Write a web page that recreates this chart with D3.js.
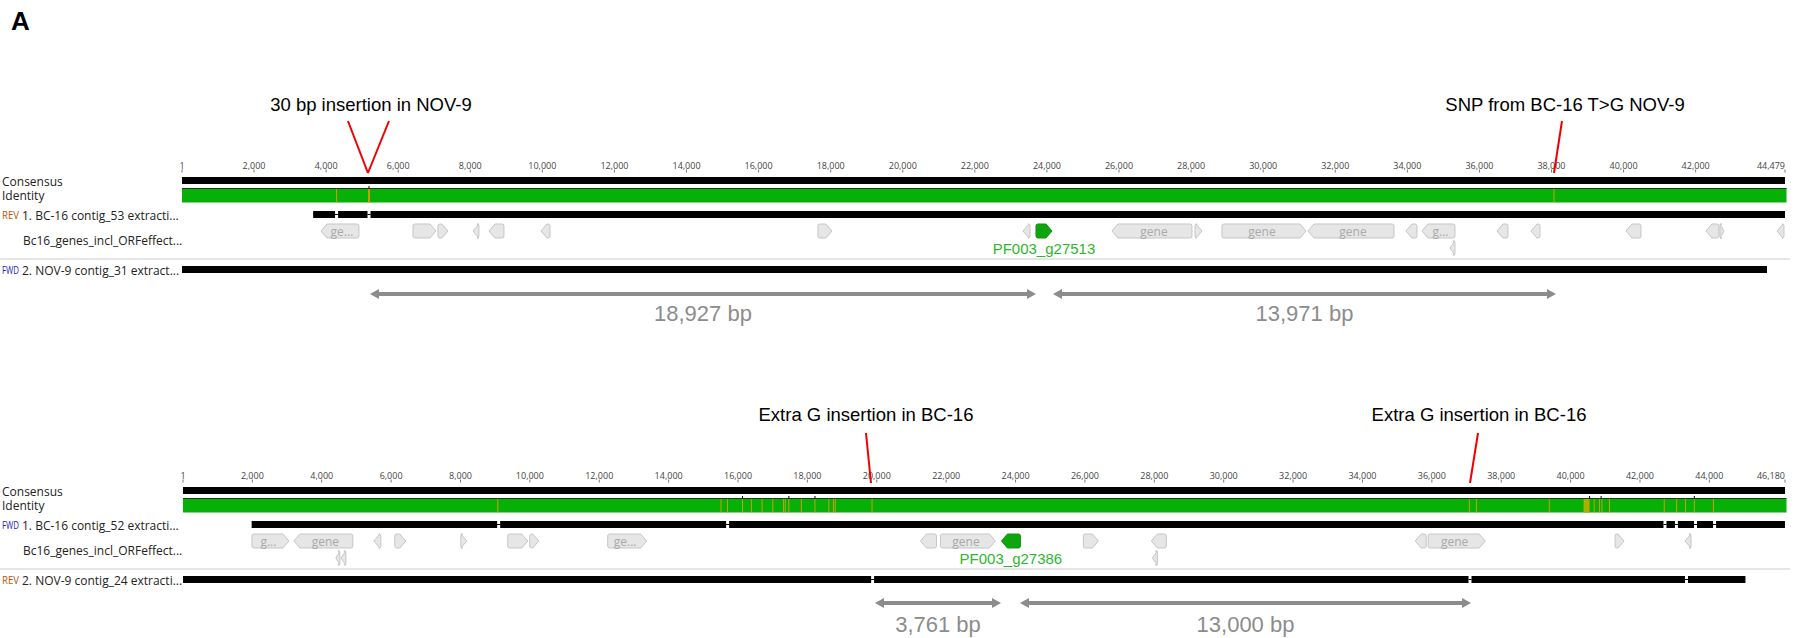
<!DOCTYPE html>
<html>
<head>
<meta charset="utf-8">
<script src="https://cdn.jsdelivr.net/npm/d3@7"></script>
<style>
  body { margin: 0; background: #fff; }
  svg { display: block; }
</style>
</head>
<body>
<div id="chart"></div>
<script>
// ---- data (bp positions) ----
const topLength = 44479;
const bottomLength = 46180;
const topTicks = [1, 2000, 4000, 6000, 8000, 10000, 12000, 14000, 16000, 18000, 20000, 22000,
  24000, 26000, 28000, 30000, 32000, 34000, 36000, 38000, 40000, 42000, 44479];
const bottomTicks = [1, 2000, 4000, 6000, 8000, 10000, 12000, 14000, 16000, 18000, 20000, 22000,
  24000, 26000, 28000, 30000, 32000, 34000, 36000, 38000, 40000, 42000, 44000, 46180];

const topSeqNames = ['1. BC-16 contig_53 extracti...', '2. NOV-9 contig_31 extract...'];
const topStrands = ['REV', 'FWD'];
const bottomSeqNames = ['1. BC-16 contig_52 extracti...', '2. NOV-9 contig_24 extracti...'];
const bottomStrands = ['FWD', 'REV'];
const annotationTrack = 'Bc16_genes_incl_ORFeffect...';

// [start, end] of each aligned sequence, and positions of gaps
const topRow1 = [3640, 44479];
const topRow1Gaps = [4290, 5190];
const topRow2 = [1, 43980];
const topRow2Gaps = [];
const bottomRow1 = [1980, 46180];
const bottomRow1Gaps = [9100, 15700, 42720, 43050, 43600, 44150];
const bottomRow2 = [1, 45040];
const bottomRow2Gaps = [19880, 37100, 43340];

// identity disagreements
const topMarks = [4290, 38070];
const topWideMarks = [5190];
const topBlocks = [];
const topGapTicks = [5190];
const bottomMarks = [9075, 15509, 15697, 16129, 16385, 16694, 17002, 17310, 17362, 17466, 17826,
  18218, 18618, 18751, 18803, 19863, 37081, 37285, 39386, 40680, 40832, 40904, 41120, 42699,
  43056, 43313, 43566, 44117];
const bottomWideMarks = [];
const bottomBlocks = [[40374, 40547]];
const bottomGapTicks = [16129, 17466, 18218, 40547, 40880, 43566];

// genes: [start, end, strand, label, lane, highlighted]
const topGenes = [
  [3857, 4911, -1, 'ge...', 0, false],
  [6410, 7048, 1, '', 0, false],
  [7103, 7380, 1, '', 0, false],
  [8074, 8240, -1, '', 0, false],
  [8518, 8934, -1, '', 0, false],
  [9961, 10211, -1, '', 0, false],
  [17647, 18035, 1, '', 0, false],
  [23335, 23530, -1, '', 0, false],
  [23696, 24140, 1, 'PF003_g27513', 0, true],
  [25805, 28024, -1, 'gene', 0, false],
  [28108, 28302, 1, '', 0, false],
  [28857, 31188, 1, 'gene', 0, false],
  [31243, 33630, -1, 'gene', 0, false],
  [33962, 34267, -1, '', 0, false],
  [34406, 35322, -1, 'g...', 0, false],
  [35183, 35322, -1, '', 1, false],
  [36487, 36792, -1, '', 0, false],
  [37431, 37680, -1, '', 0, false],
  [40067, 40483, -1, '', 0, false],
  [42286, 42647, -1, '', 0, false],
  [42675, 42786, 1, '', 0, false],
  [44256, 44451, -1, '', 0, false]
];
const bottomGenes = [
  [1988, 3054, 1, 'g...', 0, false],
  [3198, 4897, -1, 'gene', 0, false],
  [4408, 4523, -1, '', 1, false],
  [4552, 4696, -1, '', 1, false],
  [5502, 5704, -1, '', 0, false],
  [6107, 6424, 1, '', 0, false],
  [8009, 8182, 1, '', 0, false],
  [9362, 9939, 1, '', 0, false],
  [9996, 10256, 1, '', 0, false],
  [12243, 13367, 1, 'ge...', 0, false],
  [21260, 21721, -1, '', 0, false],
  [21836, 23420, 1, 'gene', 0, false],
  [23593, 24140, -1, 'PF003_g27386', 0, true],
  [25955, 26388, 1, '', 0, false],
  [27915, 28347, -1, '', 0, false],
  [27944, 28088, -1, '', 1, false],
  [35520, 35837, -1, '', 0, false],
  [35894, 37537, 1, 'gene', 0, false],
  [41281, 41540, 1, '', 0, false],
  [43298, 43471, -1, '', 0, false]
];

// red call-outs: text, text centre (bp), line segments [top bp, bottom bp]
const topNotes = [
  { text: '30 bp insertion in NOV-9', at: 5244, lines: [[4606, 5161], [5744, 5161]] },
  { text: 'SNP from BC-16 T>G NOV-9', at: 38375, lines: [[38291, 38069]] }
];
const bottomNotes = [
  { text: 'Extra G insertion in BC-16', at: 19689, lines: [[19689, 19833]] },
  { text: 'Extra G insertion in BC-16', at: 37360, lines: [[37331, 37100]] }
];

// distance arrows: [from, to, label]
const topSpans = [[5217, 23696, '18,927 bp'], [24168, 38124, '13,971 bp']];
const bottomSpans = [[19948, 23580, '3,761 bp'], [24128, 37129, '13,000 bp']];

// ---- drawing ----
const W = 1805, H = 638;
const uiFont = '"Open Sans", "Noto Sans", sans-serif';
const sansFont = '"Liberation Sans", Arial, sans-serif';

const svg = d3.select('#chart').append('svg')
  .attr('width', W)
  .attr('height', H);

svg.append('rect').attr('width', W).attr('height', H).attr('fill', '#fff');

svg.append('text')
  .attr('x', 11).attr('y', 30)
  .attr('font-family', sansFont)
  .attr('font-weight', 'bold')
  .attr('font-size', 26)
  .text('A');

const fmt = d3.format(',');

function drawPanel(p, dy) {
  const x = d3.scaleLinear().domain([1, p.length]).range([p.x0, 1785]);
  const g = svg.append('g').attr('transform', `translate(0,${dy})`);

  // track labels
  const labels = g.append('g')
    .attr('font-family', uiFont)
    .attr('font-size', 12)
    .attr('fill', '#222')
    .attr('dominant-baseline', 'central');
  labels.append('text').attr('x', 2).attr('y', 181).text('Consensus');
  labels.append('text').attr('x', 2).attr('y', 195).text('Identity');
  labels.append('text').attr('x', 22).attr('y', 215).text(p.names[0]);
  labels.append('text').attr('x', 23).attr('y', 240).text(annotationTrack);
  labels.append('text').attr('x', 22).attr('y', 270).text(p.names[1]);

  [[p.strands[0], 215], [p.strands[1], 270]].forEach(([s, y]) => {
    g.append('text')
      .attr('x', 2).attr('y', y)
      .attr('dominant-baseline', 'central')
      .attr('font-family', uiFont)
      .attr('font-size', 10)
      .attr('textLength', 17)
      .attr('lengthAdjust', 'spacingAndGlyphs')
      .attr('fill', s === 'REV' ? '#b8560b' : '#1c1cb8')
      .text(s);
  });

  // ruler
  const ruler = g.append('g');
  ruler.selectAll('line')
    .data(p.ticks)
    .enter().append('line')
    .attr('x1', d => x(d)).attr('x2', d => x(d))
    .attr('y1', 169.5).attr('y2', 172.5)
    .attr('stroke', '#777').attr('stroke-width', 1);
  ruler.selectAll('text')
    .data(p.ticks)
    .enter().append('text')
    .attr('x', d => x(d))
    .attr('y', 169)
    .attr('text-anchor', (d, i) => i === p.ticks.length - 1 ? 'end' : 'middle')
    .attr('font-family', uiFont)
    .attr('font-size', 9)
    .attr('fill', '#444')
    .text(d => fmt(d));

  // consensus
  g.append('rect')
    .attr('x', x(1)).attr('y', 177)
    .attr('width', x(p.length) - x(1)).attr('height', 7)
    .attr('fill', '#000');

  // identity
  g.append('rect')
    .attr('x', x(1)).attr('y', 188)
    .attr('width', x(p.length) - x(1) + 1.5).attr('height', 14.5)
    .attr('fill', '#07b007');
  g.append('line')
    .attr('x1', x(1)).attr('x2', x(p.length) + 1.5)
    .attr('y1', 188.5).attr('y2', 188.5)
    .attr('stroke', '#1a3a1a').attr('stroke-width', 1);
  g.selectAll('.blk')
    .data(p.blocks)
    .enter().append('rect')
    .attr('x', d => x(d[0])).attr('y', 189)
    .attr('width', d => x(d[1]) - x(d[0])).attr('height', 13.5)
    .attr('fill', '#a8b000');
  g.selectAll('.mk')
    .data(p.marks)
    .enter().append('rect')
    .attr('x', d => x(d) - 0.5).attr('y', 189)
    .attr('width', 1).attr('height', 13.5)
    .attr('fill', '#c9a000');
  g.selectAll('.wmk')
    .data(p.wideMarks)
    .enter().append('rect')
    .attr('x', d => x(d) - 1).attr('y', 189)
    .attr('width', 2).attr('height', 13.5)
    .attr('fill', '#c9a000');
  g.selectAll('.gtk')
    .data(p.gapTicks)
    .enter().append('rect')
    .attr('x', d => x(d) - 0.5).attr('y', 186)
    .attr('width', 1).attr('height', 3)
    .attr('fill', '#000');

  // aligned sequences
  function seqRow(range, gaps, y) {
    const cuts = [range[0]].concat(gaps, [range[1]]);
    const segs = d3.pairs(cuts);
    g.selectAll(null)
      .data(segs)
      .enter().append('rect')
      .attr('x', (d, i) => x(d[0]) + (i === 0 ? 0 : 1.5))
      .attr('y', y)
      .attr('width', (d, i) => Math.max(0, x(d[1]) - x(d[0]) - (i === 0 ? 0 : 1.5) - (i === segs.length - 1 ? 0 : 1.5)))
      .attr('height', 7)
      .attr('fill', '#000');
    g.selectAll(null)
      .data(gaps)
      .enter().append('line')
      .attr('x1', d => x(d) - 1.5).attr('x2', d => x(d) + 1.5)
      .attr('y1', y + 3.5).attr('y2', y + 3.5)
      .attr('stroke', '#000').attr('stroke-width', 1);
  }
  seqRow(p.row1, p.row1Gaps, 211);
  seqRow(p.row2, p.row2Gaps, 266);

  // separator
  g.append('line')
    .attr('x1', 0).attr('x2', 1790)
    .attr('y1', 259).attr('y2', 259)
    .attr('stroke', '#dcdcdc').attr('stroke-width', 1.5);

  // genes
  const laneY = [224, 241];
  const gh = 14;
  function genePath(d) {
    const x1 = x(d[0]), x2 = x(d[1]);
    const w = x2 - x1;
    const t = Math.min(6, w);
    const y = laneY[d[4]];
    const m = y + gh / 2;
    if (d[2] > 0) {
      return `M${x1},${y + 2}Q${x1},${y} ${x1 + 2},${y}L${x2 - t},${y}L${x2},${m}L${x2 - t},${y + gh}L${x1 + 2},${y + gh}Q${x1},${y + gh} ${x1},${y + gh - 2}Z`;
    }
    return `M${x2},${y + 2}Q${x2},${y} ${x2 - 2},${y}L${x1 + t},${y}L${x1},${m}L${x1 + t},${y + gh}L${x2 - 2},${y + gh}Q${x2},${y + gh} ${x2},${y + gh - 2}Z`;
  }
  const genes = g.append('g');
  genes.selectAll('path')
    .data(p.genes)
    .enter().append('path')
    .attr('d', genePath)
    .attr('fill', d => d[5] ? '#0ea50e' : '#e6e6e6')
    .attr('stroke', d => d[5] ? '#0a960a' : '#c6c6c6')
    .attr('stroke-width', 1)
    .attr('stroke-linejoin', 'round');
  genes.selectAll('text.in')
    .data(p.genes.filter(d => d[3] && !d[5]))
    .enter().append('text')
    .attr('class', 'in')
    .attr('x', d => (x(d[0]) + x(d[1])) / 2 + (d[2] > 0 ? -2 : 2))
    .attr('y', d => laneY[d[4]] + gh / 2)
    .attr('dominant-baseline', 'central')
    .attr('text-anchor', 'middle')
    .attr('font-family', uiFont)
    .attr('font-size', 12)
    .attr('fill', '#a9a9a9')
    .text(d => d[3]);
  genes.selectAll('text.hl')
    .data(p.genes.filter(d => d[5]))
    .enter().append('text')
    .attr('class', 'hl')
    .attr('x', d => (x(d[0]) + x(d[1])) / 2)
    .attr('y', 248)
    .attr('dominant-baseline', 'central')
    .attr('text-anchor', 'middle')
    .attr('font-family', sansFont)
    .attr('font-size', 15)
    .attr('fill', '#2eb62e')
    .text(d => d[3]);

  // red call-outs
  const notes = g.append('g');
  p.notes.forEach(n => {
    notes.append('text')
      .attr('x', x(n.at)).attr('y', 104)
      .attr('dominant-baseline', 'central')
      .attr('text-anchor', 'middle')
      .attr('font-family', sansFont)
      .attr('font-size', 18.5)
      .attr('fill', '#000')
      .text(n.text);
    n.lines.forEach(l => {
      notes.append('line')
        .attr('x1', x(l[0])).attr('y1', p.noteTop)
        .attr('x2', x(l[1])).attr('y2', 173)
        .attr('stroke', '#f00000').attr('stroke-width', 2);
    });
  });

  // distance arrows
  const spans = g.append('g');
  const ay = p.arrowY;
  p.spans.forEach(s => {
    const a = x(s[0]), b = x(s[1]);
    spans.append('line')
      .attr('x1', a + 6).attr('x2', b - 6)
      .attr('y1', ay).attr('y2', ay)
      .attr('stroke', '#8c8c8c').attr('stroke-width', 4);
    spans.append('path')
      .attr('d', `M${a},${ay}L${a + 9},${ay - 5}L${a + 9},${ay + 5}Z`)
      .attr('fill', '#8c8c8c');
    spans.append('path')
      .attr('d', `M${b},${ay}L${b - 9},${ay - 5}L${b - 9},${ay + 5}Z`)
      .attr('fill', '#8c8c8c');
    spans.append('text')
      .attr('x', (a + b) / 2).attr('y', ay + p.spanTextDy)
      .attr('dominant-baseline', 'central')
      .attr('text-anchor', 'middle')
      .attr('font-family', sansFont)
      .attr('font-size', 22)
      .attr('fill', '#8c8c8c')
      .text(s[2]);
  });
}

drawPanel({
  length: topLength, x0: 182, ticks: topTicks,
  names: topSeqNames, strands: topStrands,
  row1: topRow1, row1Gaps: topRow1Gaps, row2: topRow2, row2Gaps: topRow2Gaps,
  marks: topMarks, wideMarks: topWideMarks, blocks: topBlocks, gapTicks: topGapTicks,
  genes: topGenes, notes: topNotes, noteTop: 121,
  spans: topSpans, arrowY: 294, spanTextDy: 19
}, 0);

drawPanel({
  length: bottomLength, x0: 183, ticks: bottomTicks,
  names: bottomSeqNames, strands: bottomStrands,
  row1: bottomRow1, row1Gaps: bottomRow1Gaps, row2: bottomRow2, row2Gaps: bottomRow2Gaps,
  marks: bottomMarks, wideMarks: bottomWideMarks, blocks: bottomBlocks, gapTicks: bottomGapTicks,
  genes: bottomGenes, notes: bottomNotes, noteTop: 123,
  spans: bottomSpans, arrowY: 293, spanTextDy: 21
}, 310);
</script>
</body>
</html>
